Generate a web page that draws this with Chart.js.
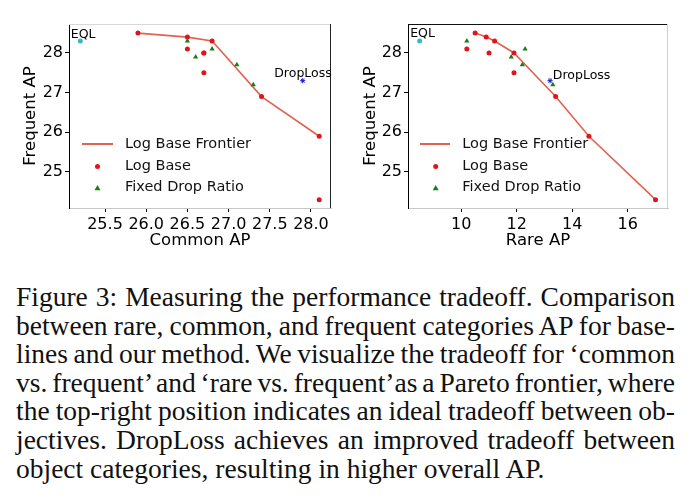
<!DOCTYPE html>
<html><head><meta charset="utf-8">
<script src="https://cdn.jsdelivr.net/npm/chart.js@4"></script>
<style>
body{margin:0;background:#fff;width:697px;height:504px;overflow:hidden;position:relative}
#c1{position:absolute;left:0;top:0}
#c2{position:absolute;left:340px;top:0}
#cap{position:absolute;left:16px;top:283px;width:659px;font-family:"Liberation Serif","Times New Roman",serif;font-size:27.5px;line-height:28.6px;color:#111}
#cap div{white-space:nowrap}
#cap span{display:inline-block;white-space:nowrap}
</style></head><body>
<canvas id="c1" width="340" height="255"></canvas>
<canvas id="c2" width="357" height="255"></canvas>
<div id="cap">
<div><span>Figure 3: Measuring the performance tradeoff. Comparison</span></div>
<div><span>between rare, common, and frequent categories AP for base-</span></div>
<div><span>lines and our method. We visualize the tradeoff for ‘common</span></div>
<div><span>vs. frequent’ and ‘rare vs. frequent’as a Pareto frontier, where</span></div>
<div><span>the top-right position indicates an ideal tradeoff between ob-</span></div>
<div><span>jectives. DropLoss achieves an improved tradeoff between</span></div>
<div class="last"><span>object categories, resulting in higher overall AP.</span></div>
</div>
<script>
// ---------- data ----------
const frequentTicks = [25, 26, 27, 28];
const commonTicks = [25.5, 26.0, 26.5, 27.0, 27.5, 28.0];
const rareTicks = [10, 12, 14, 16];

// Common AP vs Frequent AP
const logBaseCommon = [25.9, 26.5, 26.8, 27.4, 28.1, 26.5, 26.7, 26.7, 26.7, 28.1];
const logBaseFreqC  = [28.5, 28.4, 28.3, 26.9, 25.9, 28.1, 28.0, 28.0, 27.5, 24.3];
const frontierCommon = [25.9, 26.5, 26.8, 27.4, 28.1];
const frontierFreqC  = [28.5, 28.4, 28.3, 26.9, 25.9];
const fixedDropCommon = [26.5, 26.6, 26.8, 27.1, 27.3];
const fixedDropFreqC  = [28.3, 27.9, 28.1, 27.7, 27.2];

// Rare AP vs Frequent AP
const logBaseRare  = [10.5, 10.9, 11.2, 11.9, 13.4, 14.6, 17.0, 10.2, 11.0, 11.9];
const logBaseFreqR = [28.5, 28.4, 28.3, 28.0, 26.9, 25.9, 24.3, 28.1, 28.0, 27.5];
const frontierRare  = [10.5, 10.9, 11.2, 11.9, 13.4, 14.6, 17.0];
const frontierFreqR = [28.5, 28.4, 28.3, 28.0, 26.9, 25.9, 24.3];
const fixedDropRare  = [10.2, 11.8, 12.3, 12.2, 13.3];
const fixedDropFreqR = [28.3, 27.9, 28.1, 27.7, 27.2];

// single methods
const eqlCommon = 25.2, eqlRare = 8.5, eqlFreq = 28.3;
const dropLossCommon = 27.9, dropLossRare = 13.2, dropLossFreq = 27.3;

const seriesNames = ['Log Base Frontier', 'Log Base', 'Fixed Drop Ratio'];

// ---------- caption justification ----------
(function () {
  const W = 659;
  document.querySelectorAll('#cap div').forEach(div => {
    if (div.classList.contains('last')) return;
    const sp = div.querySelector('span');
    const w = sp.getBoundingClientRect().width;
    const n = (sp.textContent.match(/ /g) || []).length;
    if (n > 0) sp.style.wordSpacing = ((W - w) / n) + 'px';
  });
})();

// ---------- styling ----------
Chart.defaults.font.family = '"DejaVu Sans", sans-serif';
Chart.defaults.color = '#000';
const C_LINE = '#e2624f', C_RED = '#e0141c', C_GREEN = '#197d19', C_CYAN = '#2fbcc8', C_BLUE = '#1414d2';

const pts = (xs, ys) => xs.map((v, i) => ({x: v, y: ys[i]}));

const overlay = {
  id: 'overlay',
  afterDatasetsDraw(chart, args, o) {
    const {ctx, chartArea: a, scales: {x, y}} = chart;
    ctx.save();
    const seg = (x1, y1, x2, y2, c) => { ctx.strokeStyle = c; ctx.lineWidth = 1; ctx.beginPath(); ctx.moveTo(x1, y1); ctx.lineTo(x2, y2); ctx.stroke(); };
    seg(a.left, a.top + 0.5, a.right, a.top + 0.5, o.topColor);
    seg(a.right - 0.5, a.top, a.right - 0.5, a.bottom, o.rightColor);
    // annotations
    ctx.fillStyle = '#000';
    ctx.font = '12.5px "DejaVu Sans"';
    ctx.textBaseline = 'alphabetic';
    ctx.textAlign = 'left';
    o.notes.forEach(n => {
      ctx.fillText(n.text, x.getPixelForValue(n.x) + n.dx, y.getPixelForValue(n.y) + n.dy);
    });
    // legend
    const L = a.left, rows = [144, 166, 187];
    ctx.font = '14.5px "DejaVu Sans"';
    ctx.textBaseline = 'middle';
    ctx.strokeStyle = C_LINE; ctx.lineWidth = 2;
    ctx.beginPath(); ctx.moveTo(L + o.lx0, rows[0]); ctx.lineTo(L + o.lx1, rows[0]); ctx.stroke();
    ctx.fillStyle = C_RED;
    ctx.beginPath(); ctx.arc(L + o.mx, rows[1] + 0.5, 2.5, 0, Math.PI * 2); ctx.fill();
    ctx.fillStyle = C_GREEN;
    const tx = L + o.mx, ty = rows[2] + 1;
    ctx.beginPath(); ctx.moveTo(tx, ty - 3); ctx.lineTo(tx + 3, ty + 2.2); ctx.lineTo(tx - 3, ty + 2.2); ctx.closePath(); ctx.fill();
    ctx.fillStyle = '#111';
    seriesNames.forEach((s, i) => ctx.fillText(s, L + o.tx, rows[i]));
    ctx.restore();
  }
};

function makeChart(id, xTitle, xTicks, xMin, xMax, yAxisW, padRight, d, notes, frame, leg) {
  return new Chart(document.getElementById(id), {
    type: 'scatter',
    data: {
      datasets: [
        {label: seriesNames[0], data: d.frontier, showLine: true, borderColor: C_LINE, borderWidth: 1.6, pointRadius: 0, fill: false, order: 10, tension: 0},
        {label: seriesNames[1], data: d.logBase, pointStyle: 'circle', pointRadius: 2.5, backgroundColor: C_RED, borderColor: C_RED, borderWidth: 0, order: 3},
        {label: seriesNames[2], data: d.fixed, pointStyle: 'triangle', pointRadius: 3, backgroundColor: C_GREEN, borderColor: C_GREEN, borderWidth: 0, order: 2},
        {label: 'EQL', data: d.eql, pointStyle: 'circle', pointRadius: 2.5, backgroundColor: C_CYAN, borderColor: C_CYAN, borderWidth: 0, order: 1},
        {label: 'DropLoss', data: d.drop, pointStyle: 'star', pointRadius: 2.6, backgroundColor: C_BLUE, borderColor: C_BLUE, borderWidth: 1, order: 1}
      ]
    },
    options: {
      responsive: false, animation: false, devicePixelRatio: 1,
      layout: {padding: {left: 0, right: padRight, top: 24, bottom: 0}},
      plugins: {legend: {display: false}, tooltip: {enabled: false},
        overlay: {notes, topColor: frame.top, rightColor: frame.right, lx0: leg.lx0, lx1: leg.lx1, mx: leg.mx, tx: leg.tx}},
      scales: {
        x: {
          type: 'linear', min: xMin, max: xMax,
          afterBuildTicks: s => { s.ticks = xTicks.map(v => ({value: v})); },
          afterFit: s => { s.height = 47; },
          ticks: {autoSkip: false, maxRotation: 0, padding: 3, font: {size: 16}, color: '#000',
            callback: v => (Number.isInteger(xTicks[0]) ? String(v) : v.toFixed(1))},
          grid: {drawOnChartArea: false, drawTicks: true, tickLength: 4, color: '#000'},
          border: {display: true, color: frame.bottom, width: 1},
          title: {display: true, text: xTitle, font: {size: 16.5}, color: '#000', padding: {top: 0, bottom: 4.5}}
        },
        y: {
          type: 'linear', min: 24.09, max: 28.73,
          afterBuildTicks: s => { s.ticks = frequentTicks.map(v => ({value: v})); },
          afterFit: s => { s.width = yAxisW; },
          ticks: {autoSkip: false, padding: 2, font: {size: 16}, color: '#000', callback: v => String(v)},
          grid: {drawOnChartArea: false, drawTicks: true, tickLength: 4, color: '#000'},
          border: {display: true, color: '#000', width: 1},
          title: {display: true, text: 'Frequent AP', font: {size: 16.5}, color: '#000', padding: {top: 20.5, bottom: 0}}
        }
      }
    },
    plugins: [overlay]
  });
}

makeChart('c1', 'Common AP', commonTicks, 25.063, 28.243, 69, 9,
  {frontier: pts(frontierCommon, frontierFreqC), logBase: pts(logBaseCommon, logBaseFreqC),
   fixed: pts(fixedDropCommon, fixedDropFreqC), eql: [{x: eqlCommon, y: eqlFreq}], drop: [{x: dropLossCommon, y: dropLossFreq}]},
  [{text: 'EQL', x: eqlCommon, y: eqlFreq, dx: -9.5, dy: -3},
   {text: 'DropLoss', x: dropLossCommon, y: dropLossFreq, dx: -28.5, dy: -3.8}],
  {top: '#d8d8d8', right: '#222', bottom: '#c8c8c8'},
  {lx0: 13, lx1: 44, mx: 28.5, tx: 56});

makeChart('c2', 'Rare AP', rareTicks, 8.08, 17.45, 68, 29,
  {frontier: pts(frontierRare, frontierFreqR), logBase: pts(logBaseRare, logBaseFreqR),
   fixed: pts(fixedDropRare, fixedDropFreqR), eql: [{x: eqlRare, y: eqlFreq}], drop: [{x: dropLossRare, y: dropLossFreq}]},
  [{text: 'EQL', x: eqlRare, y: eqlFreq, dx: -9.5, dy: -3.8},
   {text: 'DropLoss', x: dropLossRare, y: dropLossFreq, dx: 2.8, dy: -1.5}],
  {top: '#111', right: '#d0d0d0', bottom: '#c8c8c8'},
  {lx0: 12, lx1: 42, mx: 27.7, tx: 54.3});
</script>
</body></html>
